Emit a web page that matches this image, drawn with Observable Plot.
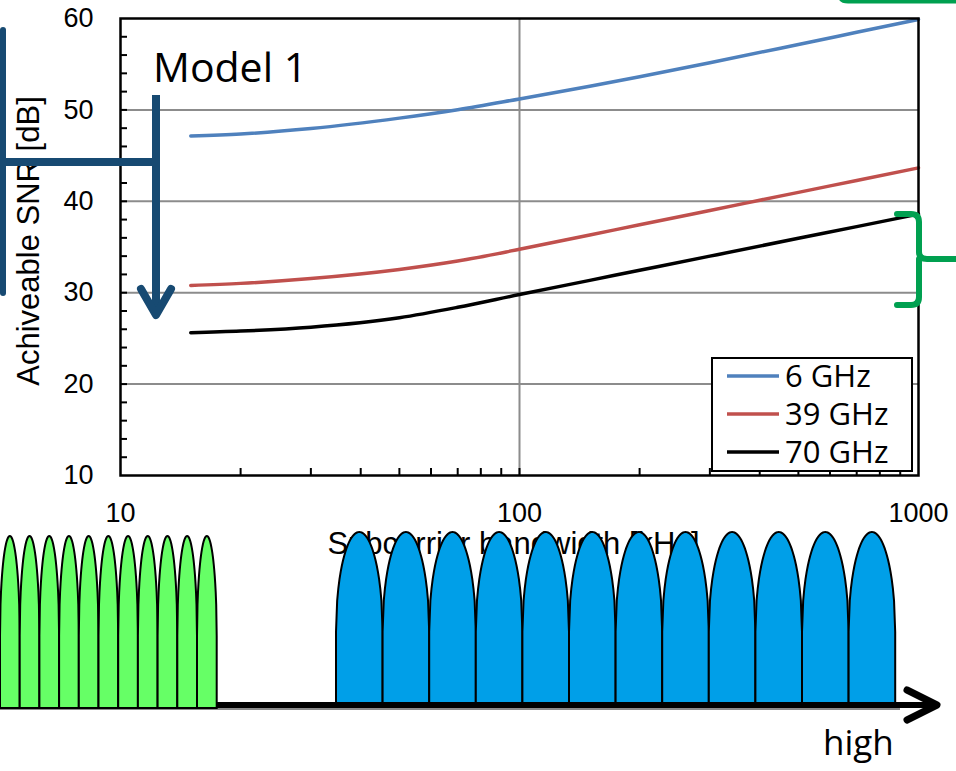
<!DOCTYPE html>
<html><head><meta charset="utf-8">
<script src="https://cdn.jsdelivr.net/npm/d3@7"></script>
<script src="https://cdn.jsdelivr.net/npm/@observablehq/plot@0.6"></script>
<style>html,body{margin:0;padding:0;background:#fff;} svg{display:block}</style>
</head><body><div id="chart"></div>
<script>
// ---- data ----
const bandwidthKHz = [15, 20, 30, 50, 70, 100, 150, 200, 300, 500, 700, 1000];
const snr6GHz  = [47.15, 47.37, 47.96, 49.10, 50.02, 51.2, 52.59, 53.63, 55.16, 57.16, 58.49, 59.9];
const snr39GHz = [30.8, 31.02, 31.55, 32.54, 33.46, 34.75, 36.32, 37.43, 39.0, 40.98, 42.28, 43.66];
const snr70GHz = [25.62, 25.8, 26.23, 27.26, 28.4, 29.8, 31.35, 32.45, 34.0, 35.95, 37.23, 38.6];
const seriesNames = ["6 GHz", "39 GHz", "70 GHz"];
const seriesColors = ["#4F81BD", "#C0504D", "#000000"];
const yTicks = [10, 20, 30, 40, 50, 60];
const yGrid = [20, 30, 40, 50];
const yMinorTicks = [12,14,16,18,20,22,24,26,28,30,32,34,36,38,40,42,44,46,48,50,52,54,56,58];
const xTicks = [10, 100, 1000];
const xGrid = [100];
const xMinorTicks = [20,30,40,50,60,70,80,90,100,200,300,400,500,600,700,800,900];
const yTitle = "Achiveable SNR [dB]";
const xTitle = "Subcarrier bandwidth [kHz]";
const annotationText = "Model 1";
const axisArrowText = "high";
const narrowBumpCount = 11;
const wideBumpCount = 12;

const seriesValues = [snr6GHz, snr39GHz, snr70GHz];
const rows = [];
seriesNames.forEach((name, s) => bandwidthKHz.forEach((b, i) => rows.push({series: name, bw: b, snr: seriesValues[s][i]})));

const svg = Plot.plot({
  width: 956, height: 771,
  marginLeft: 120, marginRight: 38, marginTop: 18, marginBottom: 296,
  style: {fontFamily: "'Liberation Sans', Arial, sans-serif", fontSize: "27px", background: "#fff", color: "#000", overflow: "visible"},
  x: {type: "log", domain: [10, 1000]},
  y: {domain: [10, 60]},
  color: {domain: seriesNames, range: seriesColors},
  marks: [
    Plot.gridY(yGrid, {stroke: "#8c8c8c", strokeOpacity: 1, strokeWidth: 2}),
    Plot.gridX(xGrid, {stroke: "#8c8c8c", strokeOpacity: 1, strokeWidth: 2}),
    Plot.axisY(yMinorTicks, {tickSize: -7, tickFormat: () => "", strokeWidth: 2, label: null}),
    Plot.axisX(xMinorTicks, {tickSize: -7, tickFormat: () => "", strokeWidth: 2, label: null}),
    Plot.axisY(yTicks, {tickSize: 0, tickPadding: 27, fontSize: 27, label: null}),
    Plot.axisX(xTicks, {tickSize: 0, tickPadding: 27, fontSize: 27, label: null, tickFormat: d => String(d)}),
    Plot.line(rows, {x: "bw", y: "snr", z: "series", stroke: "series", strokeWidth: 3.5, curve: "monotone-x"}),
    Plot.frame({stroke: "#000", strokeWidth: 2.5}),
    Plot.text([yTitle], {frameAnchor: "left", textAnchor: "middle", dx: -91, dy: -6, rotate: -90, fontSize: 31}),
    Plot.text([xTitle], {frameAnchor: "bottom", dy: 78, dx: -6, fontSize: 31})
  ]
});
document.getElementById("chart").appendChild(svg);

// ---- illustration overlay ----
const ov = d3.select(svg).append("g").attr("text-anchor", "start");
const blue = "#174A72", green = "#00A050";
const sans2 = "'Open Sans', 'Noto Sans', sans-serif";

function bumpPath(L, w, B, T) {
  const H = B - T, rectH = 0.42 * H, archH = H - rectH;
  const pts = [[L, B]];
  const n = 40;
  for (let k = 0; k <= n; k++) {
    const t = k / n, u = 2 * t - 1;
    pts.push([L + w * t, B - rectH - archH * Math.sqrt(Math.max(0, 1 - u * u))]);
  }
  pts.push([L + w, B]);
  return d3.line()(pts) + "Z";
}

// thin gray base line
ov.append("line").attr("x1", 0).attr("x2", 900).attr("y1", 709).attr("y2", 709)
  .attr("stroke", "#8a8a8a").attr("stroke-width", 2);

// narrow (green) subcarriers
d3.range(narrowBumpCount).forEach(i => {
  ov.append("path").attr("d", bumpPath(0 + i * 19.7, 19.7, 708, 536))
    .attr("fill", "#66FF66").attr("stroke", "#000").attr("stroke-width", 2);
});
// wide (blue) subcarriers
d3.range(wideBumpCount).forEach(i => {
  ov.append("path").attr("d", bumpPath(336 + i * 46.6, 46.6, 704, 532))
    .attr("fill", "#009FE8").attr("stroke", "#000").attr("stroke-width", 2);
});

// black frequency axis with arrow
ov.append("line").attr("x1", 217).attr("x2", 932).attr("y1", 705).attr("y2", 705)
  .attr("stroke", "#000").attr("stroke-width", 6);
ov.append("path").attr("d", "M907,690 L937,705 L907,720").attr("fill", "none")
  .attr("stroke", "#000").attr("stroke-width", 7).attr("stroke-linecap", "round").attr("stroke-linejoin", "round");
ov.append("text").attr("x", 823).attr("y", 755).attr("text-anchor", "start").text(axisArrowText)
  .attr("font-family", sans2).attr("font-size", 35).attr("fill", "#000");

// Model 1 annotation
ov.append("text").attr("x", 153).attr("y", 82).attr("text-anchor", "start").text(annotationText)
  .attr("font-family", sans2).attr("font-size", 41).attr("fill", "#000");
ov.append("path").attr("d", "M3,30 L3,293").attr("stroke", blue).attr("stroke-width", 6).attr("stroke-linecap", "round").attr("fill", "none");
ov.append("path").attr("d", "M3,162 L159,162").attr("stroke", blue).attr("stroke-width", 8).attr("fill", "none");
ov.append("path").attr("d", "M156,95 L156,314").attr("stroke", blue).attr("stroke-width", 8).attr("fill", "none");
ov.append("path").attr("d", "M141,289 L156,315 L171,289").attr("stroke", blue).attr("stroke-width", 8)
  .attr("stroke-linecap", "round").attr("stroke-linejoin", "round").attr("fill", "none");

// green bracket and top-right edge
ov.append("path").attr("d", "M897,214 L911,214 Q919,214 919,222 L919,252 Q919,259 927,259 L956,259 M919,259 Q919,266 919,272 L919,297 Q919,305 911,305 L897,305")
  .attr("stroke", green).attr("stroke-width", 6).attr("fill", "none").attr("stroke-linecap", "round");
ov.append("path").attr("d", "M840,-6 Q840,1 848,1 L960,1").attr("stroke", green).attr("stroke-width", 5).attr("fill", "none");

// legend
const lg = ov.append("g");
lg.append("rect").attr("x", 712).attr("y", 358).attr("width", 200).attr("height", 113)
  .attr("fill", "#fff").attr("stroke", "#000").attr("stroke-width", 2);
seriesNames.forEach((name, i) => {
  const y = 376 + i * 38;
  lg.append("line").attr("x1", 727).attr("x2", 779).attr("y1", y).attr("y2", y)
    .attr("stroke", seriesColors[i]).attr("stroke-width", 3.5);
  lg.append("text").attr("x", 785).attr("y", y).attr("dy", "0.35em").attr("text-anchor", "start").text(name)
    .attr("font-family", sans2).attr("font-size", 31).attr("fill", "#000");
});
</script>
</body></html>
